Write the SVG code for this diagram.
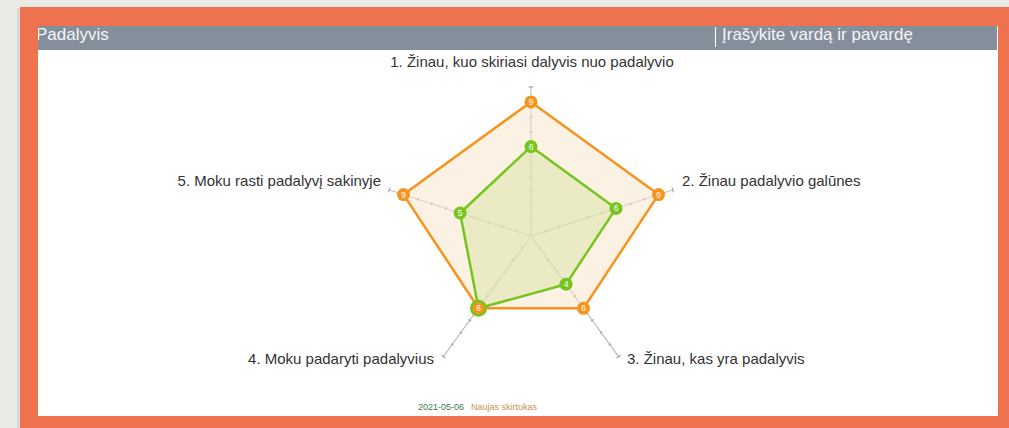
<svg xmlns="http://www.w3.org/2000/svg" xmlns:xlink="http://www.w3.org/1999/xlink" width="1009" height="428" viewBox="0 0 1009 428">
<style>
.lbl{font-family:"Liberation Sans",Arial,sans-serif;font-size:15px;fill:#333}
.hdr{font-family:"Liberation Sans",Arial,sans-serif;font-size:17px;fill:#f4f6f8}
.ax{stroke:#b5b5b5;stroke-width:1;fill:none}
.tk{stroke:#9a9a9a;stroke-width:1;fill:none}
.pt{font-family:"Liberation Sans",Arial,sans-serif;font-size:8.5px;fill:#fff;text-anchor:middle}
.op{fill:#f7941d}
.gp{fill:#77c41f}
</style>
<defs>
<clipPath id="hc"><rect x="38" y="26" width="959" height="24"/></clipPath>
<g id="axis">
<line class="ax" x1="0" y1="0" x2="150" y2="0"/>
<path class="tk" d="M14.9,-1.5V1.5M29.8,-1.5V1.5M44.7,-1.5V1.5M59.6,-1.5V1.5M74.5,-1.5V1.5M89.4,-1.5V1.5M104.3,-1.5V1.5M119.2,-1.5V1.5M134.1,-1.5V1.5M149,-2.5V2.5"/>
</g>
</defs>
<rect x="0" y="0" width="1009" height="428" fill="#ebe9e4"/>
<rect x="17" y="8" width="4" height="420" fill="#d9d6d1"/>
<rect x="20" y="7" width="989" height="421" fill="#ef724f"/>
<rect x="38" y="26" width="960" height="390" fill="#ffffff"/>
<g id="header">
<rect x="38" y="26" width="959" height="24" fill="#848f9b"/>
<text class="hdr" x="36" y="39.5" clip-path="url(#hc)">Padalyvis</text>
<line x1="715.5" y1="27" x2="715.5" y2="47" stroke="#f4f6f8" stroke-width="1.2"/>
<text class="hdr" x="722" y="39.5">Įrašykite vardą ir pavardę</text>
</g>
<g id="axes">
<use xlink:href="#axis" transform="translate(531,236) rotate(-90)"/>
<use xlink:href="#axis" transform="translate(531,236) rotate(-18)"/>
<use xlink:href="#axis" transform="translate(531,236) rotate(54)"/>
<use xlink:href="#axis" transform="translate(531,236) rotate(126)"/>
<use xlink:href="#axis" transform="translate(531,236) rotate(198)"/>
</g>
<g id="series-orange">
<polygon points="531,101.9 658.5,194.6 583.5,308.3 478.5,308.3 403.5,194.6" fill="#f8e6c8" fill-opacity="0.5" stroke="#f7931e" stroke-width="2.5" stroke-linejoin="round"/>
</g>
<g id="series-green">
<polygon points="531,146.6 616,208.4 566,284.2 478.5,308.3 460.1,213" fill="#d9e2a6" fill-opacity="0.5" stroke="#77c41f" stroke-width="2.5" stroke-linejoin="round"/>
</g>
<g id="points-green">
<circle class="gp" cx="531" cy="146.6" r="6.5"/><text class="pt" x="531" y="149.6">6</text>
<circle class="gp" cx="616" cy="208.4" r="6.5"/><text class="pt" x="616" y="211.4">6</text>
<circle class="gp" cx="566" cy="284.2" r="6.5"/><text class="pt" x="566" y="287.2">4</text>
<circle class="gp" cx="478.5" cy="308.3" r="8.5"/>
<circle class="gp" cx="460.1" cy="213" r="6.5"/><text class="pt" x="460.1" y="216">5</text>
</g>
<g id="points-orange">
<circle class="op" cx="531" cy="101.9" r="6.5"/><text class="pt" x="531" y="104.9">9</text>
<circle class="op" cx="658.5" cy="194.6" r="6.5"/><text class="pt" x="658.5" y="197.6">9</text>
<circle class="op" cx="583.5" cy="308.3" r="6.5"/><text class="pt" x="583.5" y="311.3">6</text>
<circle class="op" cx="478.5" cy="308.3" r="6"/><text class="pt" x="478.5" y="311.3">6</text>
<circle class="op" cx="403.5" cy="194.6" r="6.5"/><text class="pt" x="403.5" y="197.6">9</text>
</g>
<g id="labels">
<text class="lbl" x="532" y="67" text-anchor="middle">1. Žinau, kuo skiriasi dalyvis nuo padalyvio</text>
<text class="lbl" x="682" y="186">2. Žinau padalyvio galūnes</text>
<text class="lbl" x="627" y="364">3. Žinau, kas yra padalyvis</text>
<text class="lbl" x="434" y="364" text-anchor="end">4. Moku padaryti padalyvius</text>
<text class="lbl" x="381" y="186" text-anchor="end">5. Moku rasti padalyvį sakinyje</text>
</g>
<g id="footer">
<text x="418" y="410" font-family="Liberation Sans, Arial, sans-serif" font-size="9" fill="#3a7d55">2021-05-06</text>
<text x="471" y="410" font-family="Liberation Sans, Arial, sans-serif" font-size="9" fill="#c8924f">Naujas skirtukas</text>
</g>
</svg>
